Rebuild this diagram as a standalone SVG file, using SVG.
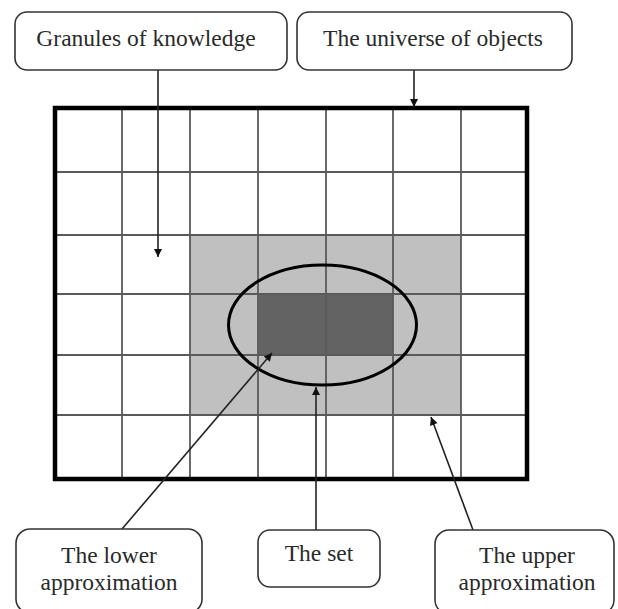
<svg xmlns="http://www.w3.org/2000/svg" width="618" height="609" viewBox="0 0 618 609">
<style>
.box{fill:#fff;stroke:#333;stroke-width:1.6}
.lbl{font-family:"Liberation Serif","Times New Roman",serif;font-size:23.5px;fill:#2a2a2a;text-anchor:middle}
.grid{stroke:#5a5a5a;stroke-width:1.8;fill:none}
.conn{stroke:#222;stroke-width:1.6;fill:none;marker-end:url(#ah)}
</style>
<defs>
<marker id="ah" viewBox="0 0 10 10" refX="10" refY="5" markerWidth="10" markerHeight="8" markerUnits="userSpaceOnUse" orient="auto">
<path d="M0,0 L10,5 L0,10 z" fill="#111"/>
</marker>
</defs>
<rect width="618" height="609" fill="#fff"/>
<g id="universe-grid">
<rect x="190" y="235" width="271" height="180" fill="#c0c0c0"/>
<rect x="258" y="294" width="135" height="61" fill="#636363"/>
<path class="grid" d="M122,108V479M190,108V479M258,108V479M326,108V479M393,108V479M461,108V479M55,172H527M55,235H527M55,294H527M55,355H527M55,415H527"/>
<rect x="55" y="108" width="472" height="371" fill="none" stroke="#000" stroke-width="4.5"/>
</g>
<g id="set-ellipse">
<ellipse cx="322.5" cy="325" rx="94" ry="60" fill="none" stroke="#000" stroke-width="3"/>
</g>
<g id="connectors">
<line class="conn" x1="158" y1="70" x2="158" y2="257"/>
<line class="conn" x1="414" y1="70" x2="414" y2="107"/>
<line class="conn" x1="122" y1="529" x2="272" y2="353"/>
<line class="conn" x1="316" y1="530" x2="316" y2="387"/>
<line class="conn" x1="473" y1="530" x2="431" y2="417"/>
</g>
<g id="granules">
<rect class="box" x="15" y="12" width="272" height="58" rx="12"/>
<text class="lbl" x="146" y="46">Granules of knowledge</text>
</g>
<g id="universe">
<rect class="box" x="297" y="12" width="275" height="58" rx="12"/>
<text class="lbl" x="433" y="46">The universe of objects</text>
</g>
<g id="lower">
<rect class="box" x="16" y="529" width="186" height="84" rx="14"/>
<text class="lbl" x="109" y="563">The lower</text>
<text class="lbl" x="109" y="590">approximation</text>
</g>
<g id="set">
<rect class="box" x="258" y="530" width="122" height="57" rx="12"/>
<text class="lbl" x="319" y="561">The set</text>
</g>
<g id="upper">
<rect class="box" x="435" y="530" width="179" height="84" rx="14"/>
<text class="lbl" x="527" y="563">The upper</text>
<text class="lbl" x="527" y="590">approximation</text>
</g>
</svg>
